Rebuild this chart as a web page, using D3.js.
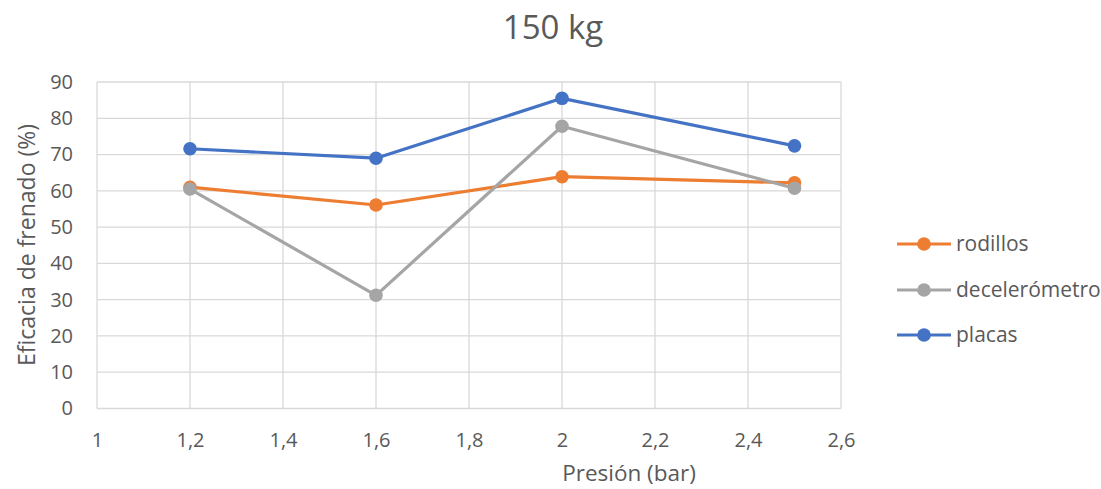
<!DOCTYPE html>
<html>
<head>
<meta charset="utf-8">
<script src="https://cdn.jsdelivr.net/npm/d3@7"></script>
<style>
  html, body { margin: 0; padding: 0; background: #fff; }
  text { font-family: "Open Sans", "Liberation Sans", sans-serif; fill: #595959; }
</style>
</head>
<body>
<svg id="chart" width="1101" height="489"></svg>
<script>
const pressures = [1.2, 1.6, 2.0, 2.5];
const rodillos = [61.0, 56.1, 63.9, 62.2];
const decelerometro = [60.5, 31.2, 77.8, 60.7];
const placas = [71.6, 69.0, 85.5, 72.4];
const seriesNames = ["rodillos", "decelerómetro", "placas"];
const seriesColors = ["#ED7D31", "#A5A5A5", "#4472C4"];
const xTicks = [1, 1.2, 1.4, 1.6, 1.8, 2, 2.2, 2.4, 2.6];
const yTicks = [0, 10, 20, 30, 40, 50, 60, 70, 80, 90];

const svg = d3.select("#chart");
const plotL = 97, plotR = 841, plotT = 82, plotB = 408.5;

const x = d3.scaleLinear().domain([1, 2.6]).range([plotL, plotR]);
const y = d3.scaleLinear().domain([0, 90]).range([plotB, plotT]);
const fmt = d => String(d).replace(".", ",");
const fontStack = "'Open Sans', 'Liberation Sans', sans-serif";

// gridlines
const grid = svg.append("g").attr("stroke", "#D9D9D9").attr("stroke-width", 1.3);
grid.selectAll("line.h").data(yTicks).join("line").attr("class", "h")
  .attr("x1", plotL).attr("x2", plotR)
  .attr("y1", d => y(d)).attr("y2", d => y(d));
grid.selectAll("line.v").data(xTicks).join("line").attr("class", "v")
  .attr("y1", plotT).attr("y2", plotB)
  .attr("x1", d => x(d)).attr("x2", d => x(d));

// tick labels
const xAxis = d3.axisBottom(x).tickValues(xTicks).tickFormat(fmt).tickSize(0).tickPadding(24);
svg.append("g").attr("transform", `translate(0,${plotB})`).call(xAxis)
  .call(g => g.select(".domain").remove())
  .selectAll("text").attr("font-size", 20).style("fill", "#595959")
  .style("font-family", fontStack);

const yAxis = d3.axisLeft(y).tickValues(yTicks).tickSize(0).tickPadding(24);
svg.append("g").attr("transform", `translate(${plotL},0)`).call(yAxis)
  .call(g => g.select(".domain").remove())
  .selectAll("text").attr("font-size", 20).style("fill", "#595959")
  .style("font-family", fontStack);

// series
const allSeries = [rodillos, decelerometro, placas];
const line = d3.line().x((d, i) => x(pressures[i])).y(d => y(d));
allSeries.forEach((vals, si) => {
  const g = svg.append("g");
  g.append("path").datum(vals).attr("d", line)
    .attr("fill", "none").attr("stroke", seriesColors[si])
    .attr("stroke-width", 3.2).attr("stroke-linejoin", "round");
  g.selectAll("circle").data(vals).join("circle")
    .attr("cx", (d, i) => x(pressures[i])).attr("cy", d => y(d))
    .attr("r", 6.8).attr("fill", seriesColors[si]);
});

// title
svg.append("text").attr("x", 553).attr("y", 39).attr("text-anchor", "middle")
  .attr("font-size", 33).text("150 kg");

// axis titles
svg.append("text").attr("x", 629).attr("y", 481).attr("text-anchor", "middle")
  .attr("font-size", 22.5).text("Presión (bar)");
svg.append("text").attr("transform", "translate(35,245) rotate(-90)")
  .attr("text-anchor", "middle").attr("font-size", 23).text("Eficacia de frenado (%)");

// legend
const legY = [244, 290, 335];
seriesNames.forEach((name, i) => {
  const g = svg.append("g").attr("transform", `translate(897,${legY[i]})`);
  g.append("line").attr("x1", 0).attr("x2", 54).attr("y1", 0).attr("y2", 0)
    .attr("stroke", seriesColors[i]).attr("stroke-width", 3.2);
  g.append("circle").attr("cx", 27).attr("cy", 0).attr("r", 6.8).attr("fill", seriesColors[i]);
  g.append("text").attr("x", 59).attr("y", 0).attr("dy", "0.35em")
    .attr("font-size", 21).text(name);
});
</script>
</body>
</html>
